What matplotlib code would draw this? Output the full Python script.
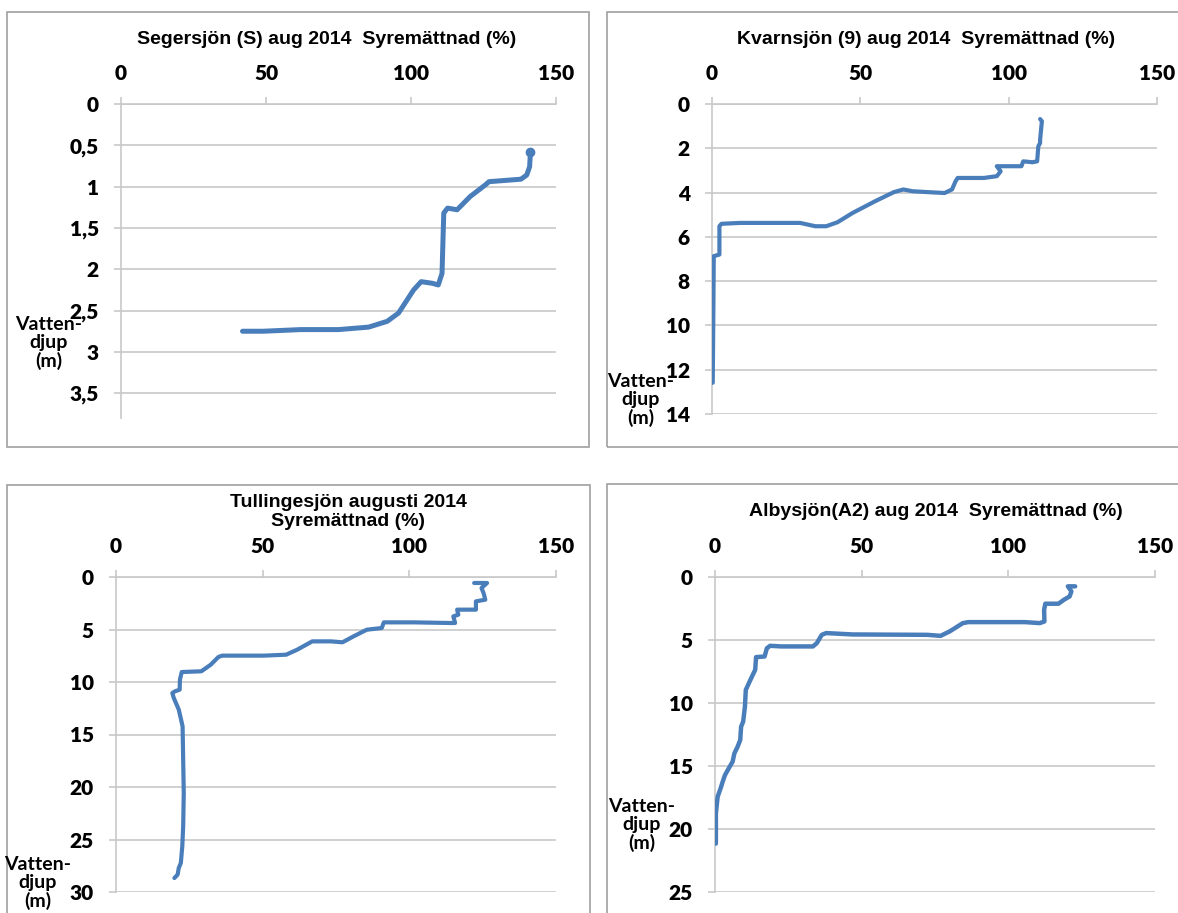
import matplotlib
matplotlib.use('Agg')
import matplotlib.pyplot as plt
from matplotlib.patches import Rectangle

W, H = 1178, 913

# Segersjön (S)
seg_oxygen = [141.2, 140.9, 139.9, 137.9, 126.9, 125.6, 120.4, 115.9, 112.6, 111.3, 111.1, 110.7,
              109.4, 107.4, 103.5, 100.9, 98.3, 95.7, 91.8, 85.4, 75.0, 62.0, 49.0, 41.9]
seg_depth = [0.58, 0.76, 0.86, 0.91, 0.94, 0.98, 1.12, 1.28, 1.26, 1.32, 1.56, 2.05,
             2.19, 2.17, 2.15, 2.25, 2.39, 2.53, 2.63, 2.70, 2.73, 2.73, 2.75, 2.75]

# Kvarnsjön (9)
kva_oxygen = [110.6, 111.2, 110.6, 110.6, 110.0, 109.6, 108.0, 104.9, 104.3, 97.9, 96.0, 97.3, 96.0,
              91.6, 82.8, 82.1, 80.9, 78.4, 72.7, 67.6, 64.5, 61.3, 55.0, 47.4, 42.3, 38.5, 34.8,
              29.7, 9.5, 3.2, 2.5, 2.5, 0.6, 0.4, 0.25]
kva_depth = [0.68, 0.78, 1.61, 1.76, 1.91, 2.59, 2.63, 2.59, 2.81, 2.81, 2.81, 3.04, 3.26,
             3.34, 3.34, 3.49, 3.86, 4.02, 3.98, 3.94, 3.86, 3.98, 4.39, 4.92, 5.34, 5.52, 5.52,
             5.37, 5.37, 5.41, 5.52, 6.80, 6.87, 10.33, 12.59]

# Tullingesjön
tul_oxygen = [122.1, 126.5, 124.6, 125.3, 125.9, 122.7, 122.7, 116.3, 116.7, 115.0, 115.6, 113.7,
              101.5, 91.3, 90.6, 85.5, 81.0, 77.2, 73.3, 66.9, 61.8, 58.0, 50.3, 36.2, 34.9, 32.3,
              29.1, 22.4, 21.8, 21.7, 20.1, 19.2, 19.7, 21.4, 22.7, 22.9, 23.1, 22.9, 22.6, 22.1,
              21.4, 21.0, 19.9]
tul_depth = [0.57, 0.57, 1.05, 1.52, 2.16, 2.32, 3.11, 3.11, 3.59, 3.75, 4.38, 4.38,
             4.32, 4.32, 4.86, 5.02, 5.65, 6.22, 6.13, 6.13, 6.92, 7.40, 7.49, 7.49, 7.62, 8.35,
             8.98, 9.05, 9.78, 10.73, 10.89, 11.05, 11.52, 12.63, 14.22, 17.40, 20.57, 23.75, 25.65, 27.24,
             27.71, 28.35, 28.67]

# Albysjön (A2)
alb_oxygen = [122.8, 120.3, 121.5, 120.9, 119.0, 117.1, 112.6, 112.2, 112.3, 110.7, 105.6, 86.4,
              84.5, 80.0, 76.9, 72.4, 46.9, 37.9, 36.4, 34.7, 33.4, 22.6, 18.8, 17.7, 16.9, 14.0,
              13.7, 12.6, 11.8, 10.5, 10.2, 9.6, 8.9, 8.6, 7.7, 6.6, 6.0, 5.0, 3.4, 2.8, 1.9, 0.9,
              0.3, 0.3]
alb_depth = [0.74, 0.74, 1.14, 1.54, 1.80, 2.12, 2.12, 2.60, 3.53, 3.66, 3.58, 3.58,
             3.66, 4.32, 4.67, 4.59, 4.56, 4.45, 4.59, 5.25, 5.51, 5.51, 5.46, 5.65, 6.31, 6.36,
             7.37, 7.90, 8.30, 8.96, 10.29, 11.48, 11.88, 12.94, 13.47, 14.00, 14.66, 15.06, 15.72, 16.12, 16.78, 17.44,
             18.77, 21.16]

x_ticks = [0, 50, 100, 150]
seg_yticks = [0, 0.5, 1, 1.5, 2, 2.5, 3, 3.5]
seg_ylabels = ['0', '0,5', '1', '1,5', '2', '2,5', '3', '3,5']
kva_yticks = [0, 2, 4, 6, 8, 10, 12, 14]
tul_yticks = [0, 5, 10, 15, 20, 25, 30]
alb_yticks = [0, 5, 10, 15, 20, 25]

line_color = '#4A7EBB'
grid_color = '#C8C8C8'
title_font = 'Liberation Sans'
tick_font = 'Lato'

fig = plt.figure(figsize=(W / 100, H / 100), dpi=100)
fig.patch.set_facecolor('white')


def frame(x0, y0, x1, y1):
    # chart border, pixel coords from top-left
    fig.patches.append(Rectangle((x0 / W, 1 - y1 / H), (x1 - x0) / W, (y1 - y0) / H,
                                 transform=fig.transFigure, fill=False,
                                 edgecolor='#A0A0A0', linewidth=1.2))


def panel(px, py, oxygen, depth, ymax, yticks, ylabels, title, title_y, title_x,
          label_x, label_y, lw=3.2, end_dot=False):
    x0, x1 = px
    y0, y1 = py
    ax = fig.add_axes([x0 / W, 1 - y1 / H, (x1 - x0) / W, (y1 - y0) / H])
    ax.plot(oxygen, depth, color=line_color, linewidth=lw, solid_capstyle='round',
            solid_joinstyle='round', zorder=3)
    if end_dot:
        ax.plot(oxygen[:1], depth[:1], 'o', color=line_color, markersize=6, zorder=4)
    ax.set_xlim(0, 150)
    ax.set_ylim(ymax, 0)
    ax.set_xticks(x_ticks)
    ax.set_yticks(yticks)
    ax.set_yticklabels(ylabels)
    ax.xaxis.tick_top()
    ax.yaxis.grid(True, color=grid_color, linewidth=1.2)
    for s in ('right', 'bottom'):
        ax.spines[s].set_visible(False)
    for s in ('top', 'left'):
        ax.spines[s].set_color(grid_color)
        ax.spines[s].set_linewidth(1.2)
    ax.tick_params(axis='x', direction='out', length=5, width=1.2, color=grid_color, pad=10)
    ax.tick_params(axis='y', direction='out', length=5, width=1.2, color=grid_color, pad=11)
    for lab in ax.get_xticklabels() + ax.get_yticklabels():
        lab.set_fontfamily(tick_font)
        lab.set_fontweight('heavy')
        lab.set_fontsize(15)
    fig.text(title_x / W, 1 - title_y / H, title, ha='center', va='center',
             fontfamily=title_font, fontweight='bold', fontsize=14, linespacing=1.1)
    fig.text(label_x / W, 1 - label_y / H, 'Vatten-\ndjup\n(m)', ha='center', va='center',
             fontfamily=tick_font, fontweight='bold', fontsize=14, linespacing=1.05)
    return ax


frame(7, 12, 589, 447)
frame(607, 12, 1190, 447)
frame(7, 485, 590, 925)
frame(607, 484, 1190, 925)

panel((121, 556), (104, 418), seg_oxygen, seg_depth, 3.8, seg_yticks, seg_ylabels,
      'Segersjön (S) aug 2014  Syremättnad (%)', 39, 327, 49, 343, lw=3.6, end_dot=True)
panel((712, 1157), (104, 414), kva_oxygen, kva_depth, 14, kva_yticks, [str(t) for t in kva_yticks],
      'Kvarnsjön (9) aug 2014  Syremättnad (%)', 40, 926, 641, 400, lw=3.0)
panel((116, 556), (577, 892), tul_oxygen, tul_depth, 30, tul_yticks, [str(t) for t in tul_yticks],
      'Tullingesjön augusti 2014\nSyremättnad (%)', 512, 348, 38, 883, lw=3.0)
panel((715, 1155), (577, 892), alb_oxygen, alb_depth, 25, alb_yticks, [str(t) for t in alb_yticks],
      'Albysjön(A2) aug 2014  Syremättnad (%)', 512, 936, 642, 825, lw=3.2)

fig.savefig('out.png', dpi=100, facecolor='white')
